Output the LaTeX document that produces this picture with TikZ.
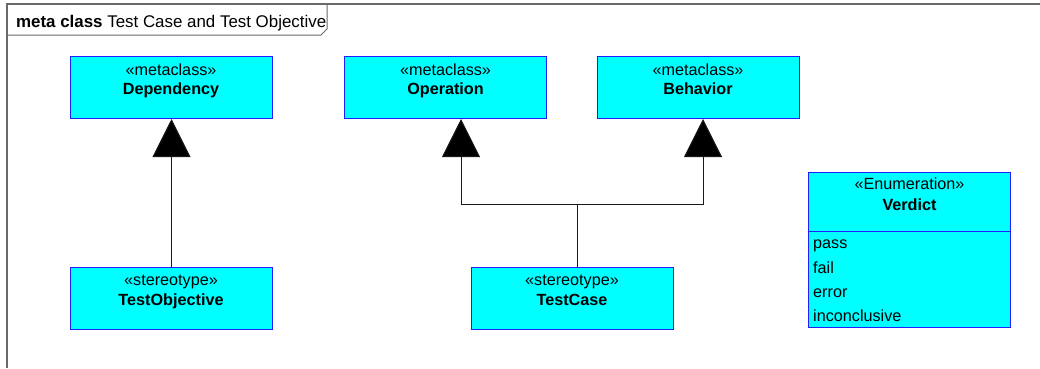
\documentclass[tikz,border=0pt]{standalone}
\usepackage{fontspec}
\setmainfont{Liberation Sans}
\usetikzlibrary{arrows.meta}
\definecolor{umlfill}{RGB}{0,255,255}
\definecolor{umlline}{RGB}{30,30,255}
\definecolor{framecol}{RGB}{105,105,105}
\begin{document}
\begin{tikzpicture}[x=1pt,y=-1pt,font=\fontsize{16.2}{19}\selectfont,
  umlbox/.style={draw=umlline,fill=umlfill,line width=1pt,inner sep=0pt,anchor=north west,minimum width=202pt,minimum height=62pt},
  txt/.style={inner sep=0pt,anchor=base},
  itm/.style={inner sep=0pt,anchor=base west},
  gen/.style={draw=black!90,line width=1pt,-{Triangle[length=38pt,width=38pt,fill=black]}},
  conn/.style={draw=black!90,line width=1pt}]
\useasboundingbox (0,0) rectangle (1040,368);
% frame
\draw[framecol,line width=1.5pt] (1040,4) -- (7,4) -- (7,368);
\draw[framecol,line width=1pt] (7,35) -- (321,35) -- (327,29) -- (327,4);
\node[itm,font=\fontsize{16.9}{19}\selectfont] (title) at (16,27) {\textbf{meta class} Test Case and Test Objective};
% boxes
\node[umlbox] (dep) at (70,56) {};
\node[txt] (depst) at (171,75) {«metaclass»};
\node[txt] (depnm) at (171,94) {\textbf{Dependency}};
\node[umlbox] (op) at (344,56) {};
\node[txt] (opst) at (445.5,75) {«metaclass»};
\node[txt] (opnm) at (445.5,94) {\textbf{Operation}};
\node[umlbox] (beh) at (597,56) {};
\node[txt] (behst) at (698,75) {«metaclass»};
\node[txt] (behnm) at (698,94) {\textbf{Behavior}};
\node[umlbox] (tobj) at (70,267) {};
\node[txt] (tobjst) at (171,285) {«stereotype»};
\node[txt] (tobjnm) at (171,305) {\textbf{TestObjective}};
\node[umlbox] (tc) at (471,267) {};
\node[txt] (tcst) at (572,285) {«stereotype»};
\node[txt] (tcnm) at (572,305) {\textbf{TestCase}};
\node[umlbox,minimum height=155pt] (ver) at (808,172) {};
\draw[umlline,line width=1pt] (ver.west |- 0,231) coordinate (sepL) -- (ver.east |- 0,231) coordinate (sepR);
\node[txt] (verst) at (909.5,189) {«Enumeration»};
\node[txt] (vernm) at (909.5,210) {\textbf{Verdict}};
\node[itm] (v1) at (813,248) {pass};
\node[itm] (v2) at (813,273) {fail};
\node[itm] (v3) at (813,297) {error};
\node[itm] (v4) at (813,321) {inconclusive};
% connectors
\draw[gen] (tobj.north) -- (dep.south);
\coordinate (j) at (577,204);
\draw[conn] (tc.north -| j) -- (j);
\draw[gen] (j) -| (op.south -| 461,0);
\draw[gen] (j) -| (beh.south -| 703,0);
\end{tikzpicture}
\end{document}
